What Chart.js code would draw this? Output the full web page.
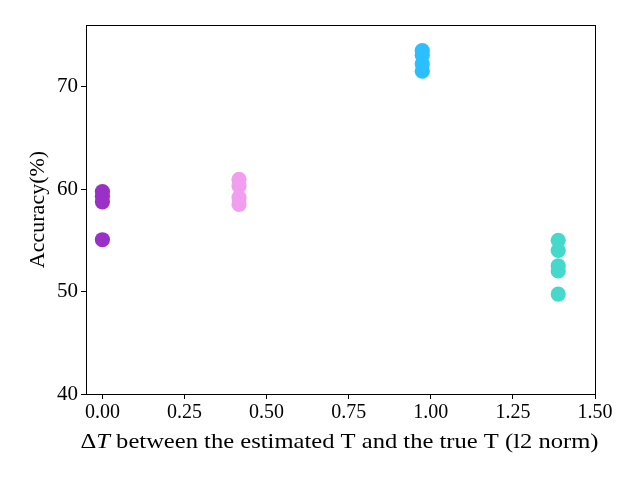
<!DOCTYPE html>
<html><head><meta charset="utf-8">
<script src="https://cdn.jsdelivr.net/npm/chart.js@4"></script>
<style>html,body{margin:0;padding:0;background:#fff}#wrap{width:640px;height:480px}</style>
</head><body><div id="wrap"><canvas id="c" width="640" height="480"></canvas></div>
<script>
const groupX = [0.0, 0.416, 0.974, 1.388];
const purpleY = [59.75, 59.3, 58.75, 55.05];
const pinkY = [60.95, 60.3, 59.15, 58.5];
const blueY = [73.5, 73.05, 72.2, 71.5];
const tealY = [55.0, 54.0, 52.5, 52.0, 49.75];
const groupColors = ['#9B30C8', '#F29EF0', '#2BBFFF', '#45D9CC'];
const xTicks = [0, 0.25, 0.5, 0.75, 1.0, 1.25, 1.5];
const yTicks = [40, 50, 60, 70];
const xTitleParts = [['Δ', false], ['T', true], [' between the estimated T and the true T (l2 norm)', false]];
const yTitle = 'Accuracy(%)';

const series = [purpleY, pinkY, blueY, tealY];
const datasets = series.map((ys, i) => ({
  data: ys.map(y => ({x: groupX[i], y: y})),
  backgroundColor: groupColors[i],
  borderWidth: 0,
  pointRadius: 7.6,
  pointHoverRadius: 7.6
}));

const FONT = "'Liberation Serif', 'DejaVu Serif', serif";
const frame = {
  id: 'frame',
  afterDatasetsDraw(chart) {
    const a = chart.chartArea, ctx = chart.ctx;
    ctx.save();
    ctx.strokeStyle = '#000';
    ctx.lineWidth = 1;
    ctx.strokeRect(Math.round(a.left) + 0.5, Math.round(a.top) + 0.5, Math.round(a.right - a.left), Math.round(a.bottom - a.top));
    ctx.restore();
  }
};
const xTitlePlugin = {
  id: 'xTitle',
  afterDraw(chart) {
    const ctx = chart.ctx, a = chart.chartArea;
    ctx.save();
    ctx.fillStyle = '#000';
    ctx.textBaseline = 'alphabetic';
    const fonts = it => (it ? 'italic ' : '') + '21px ' + FONT;
    let total = 0;
    xTitleParts.forEach(([t, it]) => { ctx.font = fonts(it); total += ctx.measureText(t).width; });
    const targetW = 518;
    const cx = (a.left + a.right) / 2 - 1;
    const sx = targetW / total;
    ctx.translate(cx - targetW / 2, a.bottom + 54);
    ctx.scale(sx, 1);
    let x = 0;
    xTitleParts.forEach(([t, it]) => { ctx.font = fonts(it); ctx.fillText(t, x, 0); x += ctx.measureText(t).width; });
    ctx.restore();
  }
};

new Chart(document.getElementById('c'), {
  type: 'scatter',
  data: { datasets },
  options: {
    responsive: false,
    animation: false,
    events: [],
    layout: { padding: { left: 0, right: 45, top: 25, bottom: 0 } },
    plugins: { legend: { display: false }, tooltip: { enabled: false } },
    scales: {
      x: {
        type: 'linear', min: -0.05, max: 1.5,
        afterBuildTicks(s) { s.ticks = xTicks.map(v => ({ value: v })); },
        afterFit(s) { s.height = 86; },
        grid: { drawOnChartArea: false, drawTicks: true, tickLength: 5, color: '#000', tickWidth: 1 },
        border: { display: true, color: '#000' },
        ticks: { color: '#000', font: { family: FONT, size: 20 }, padding: 2, maxRotation: 0,
          callback: v => Number(v).toFixed(2) },
        title: { display: false }
      },
      y: {
        type: 'linear', min: 40, max: 76,
        afterBuildTicks(s) { s.ticks = yTicks.map(v => ({ value: v })); },
        afterFit(s) { s.width = 86; },
        grid: { drawOnChartArea: false, drawTicks: true, tickLength: 5, color: '#000', tickWidth: 1 },
        border: { display: true, color: '#000' },
        ticks: { color: '#000', font: { family: FONT, size: 21 }, padding: 3, callback: v => String(v) },
        title: { display: true, text: yTitle, color: '#000', font: { family: FONT, size: 22 }, padding: { top: 25, bottom: 0 } }
      }
    }
  },
  plugins: [frame, xTitlePlugin]
});
</script></body></html>
